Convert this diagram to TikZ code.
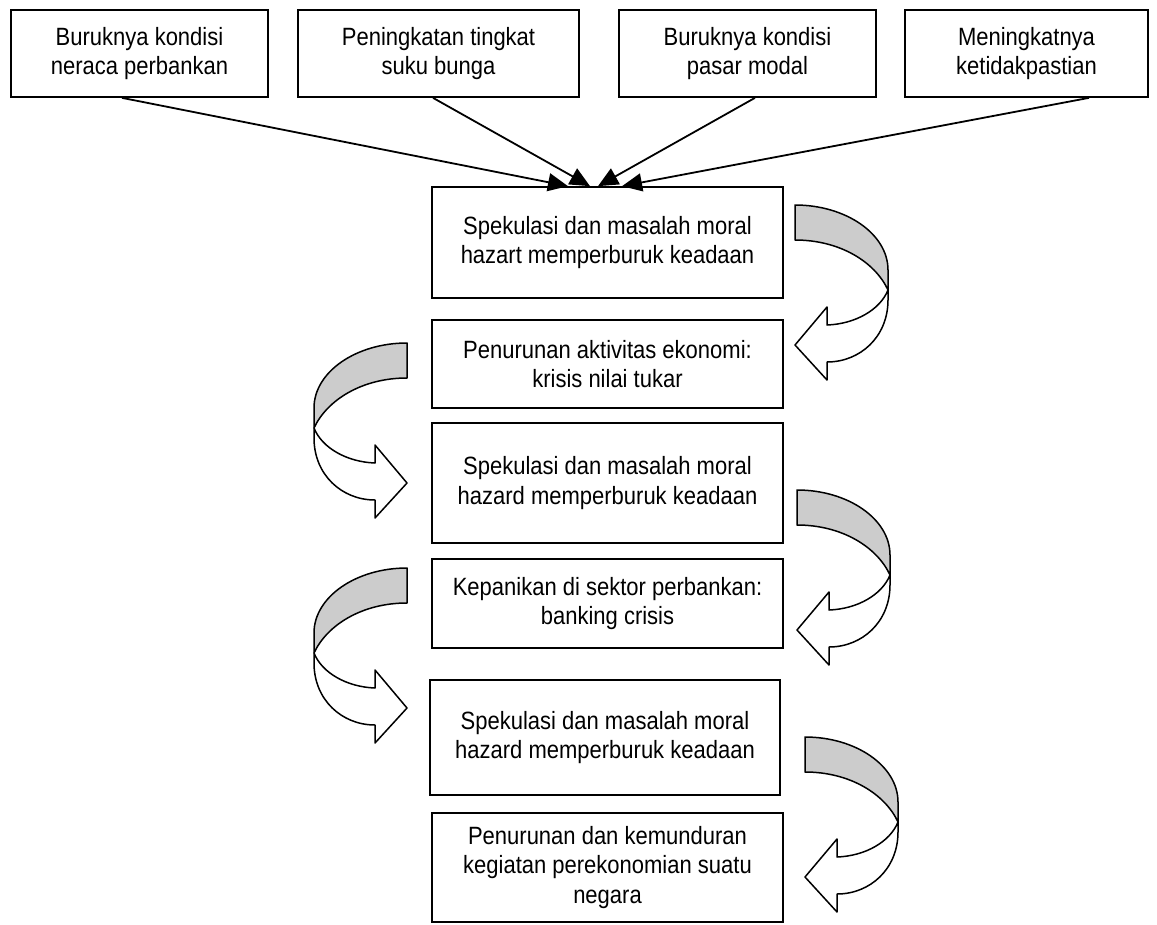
\documentclass[tikz,border=0pt]{standalone}
\usepackage{fontspec}
\setmainfont{Liberation Sans}[FakeStretch=0.88]
\usetikzlibrary{arrows.meta}
\definecolor{bandgray}{HTML}{CCCCCC}
\tikzset{
  box/.style={draw=black, line width=1.7pt, rectangle, align=center, inner sep=0pt,
    font=\fontsize{25}{29.5}\selectfont},
  feed/.style={draw=black, line width=1.8pt, -{Triangle[length=20pt,width=18pt]}},
  ribbon/.style={draw=black, line width=1.5pt, line join=round},
}
\newcommand{\curlarrow}[3]{%
\begin{scope}[shift={(#1,#2)}, xscale=#3]
  \filldraw[ribbon, fill=white] (93,85) .. controls (85,105) and (60,119) .. (32,120)
    -- (32,102) -- (0,140) -- (32,175) -- (32,157)
    .. controls (65,157) and (93,132) .. (93,95) -- cycle;
  \filldraw[ribbon, fill=bandgray] (0,0) .. controls (51,0) and (93,29) .. (93,65)
    -- (93,85) .. controls (80,57) and (45,35) .. (0,35) -- cycle;
\end{scope}}
\begin{document}
\begin{tikzpicture}[x=1pt, y=-1pt]
\useasboundingbox (0,0) rectangle (1157,924);
\fill[white] (0,0) rectangle (1157,924);
% top boxes
\node[box, minimum width=257pt, minimum height=87pt] (t1) at (139.5,53.5) {Buruknya kondisi\\neraca perbankan};
\node[box, minimum width=281pt, minimum height=87pt] (t2) at (438.5,53.5) {Peningkatan tingkat\\suku bunga};
\node[box, minimum width=257pt, minimum height=87pt] (t3) at (747.5,53.5) {Buruknya kondisi\\pasar modal};
\node[box, minimum width=243pt, minimum height=87pt] (t4) at (1026.5,53.5) {Meningkatnya\\ketidakpastian};
% central column
\node[box, minimum width=351pt, minimum height=111pt] (A) at (607.5,242.5) {Spekulasi dan masalah moral\\hazart memperburuk keadaan};
\node[box, minimum width=351pt, minimum height=88pt] (B) at (607.5,364) {Penurunan aktivitas ekonomi:\\krisis nilai tukar};
\node[box, minimum width=351pt, minimum height=120pt] (C) at (607.5,483) {Spekulasi dan masalah moral\\hazard memperburuk keadaan};
\node[box, minimum width=351pt, minimum height=89pt] (D) at (607.5,603.5) {Kepanikan di sektor perbankan:\\banking crisis};
\node[box, minimum width=350pt, minimum height=115pt] (E) at (605,737.5) {Spekulasi dan masalah moral\\hazard memperburuk keadaan};
\node[box, minimum width=351pt, minimum height=109pt] (F) at (607.5,867.5) {Penurunan dan kemunduran\\kegiatan perekonomian suatu\\negara};
% converging arrows
\draw[feed] ([xshift=-17.5pt]t1.south) -- ([xshift=-39.5pt]A.north);
\draw[feed] ([xshift=-5.5pt]t2.south) -- ([xshift=-17.5pt]A.north);
\draw[feed] ([xshift=7.5pt]t3.south) -- ([xshift=-9.5pt]A.north);
\draw[feed] ([xshift=62.5pt]t4.south) -- ([xshift=14.5pt]A.north);
% curled arrows
\curlarrow{795}{205}{1}
\curlarrow{407}{343}{-1}
\curlarrow{797}{490}{1}
\curlarrow{407}{568}{-1}
\curlarrow{805}{737}{1}
\end{tikzpicture}
\end{document}
